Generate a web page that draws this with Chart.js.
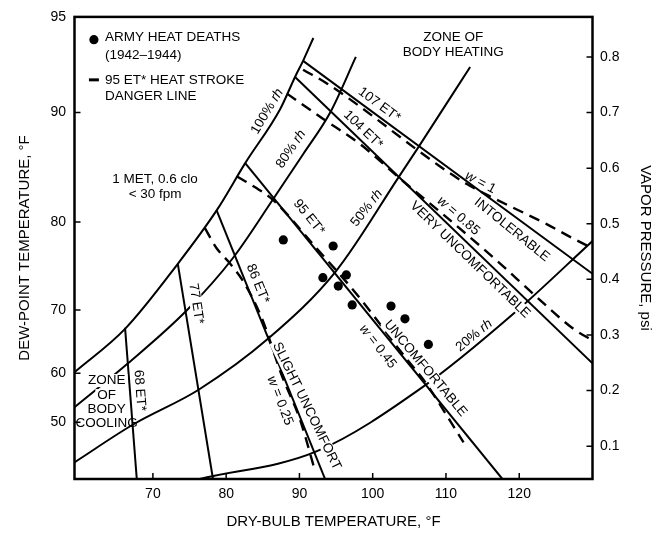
<!DOCTYPE html>
<html>
<head>
<meta charset="utf-8">
<script src="https://cdn.jsdelivr.net/npm/chart.js@4.4.1/dist/chart.umd.min.js"></script>
<style>
  html, body { margin: 0; padding: 0; background: #fff; }
  #wrap { width: 662px; height: 533px; }
</style>
</head>
<body>
<div id="wrap"><canvas id="c" width="662" height="533"></canvas></div>
<script>
const FONT = "'Liberation Sans', Arial, Helvetica, sans-serif";

// Axis ticks
const dryBulbTicks = [70, 80, 90, 100, 110, 120];
const vaporPressureTicks = [0.1, 0.2, 0.3, 0.4, 0.5, 0.6, 0.7, 0.8];
const dewPointLabels = [50, 60, 70, 80, 90, 95];
const dewPointPsi = [0.143, 0.231, 0.345, 0.503, 0.700, 0.872];

// Relative humidity curves (dry-bulb °F, vapor pressure psi)
const rh100T = [59.3, 66.2, 73.4, 78.7, 82.6, 87.4, 89.4, 90.5, 91.9];
const rh100P = [0.233, 0.311, 0.428, 0.524, 0.609, 0.707, 0.764, 0.793, 0.834];
const rh80T = [59.3, 66.6, 74.6, 80.9, 86.4, 90.5, 94.2, 97.7];
const rh80P = [0.170, 0.249, 0.344, 0.438, 0.544, 0.625, 0.700, 0.800];
const rh50T = [59.3, 67.3, 76.3, 85.7, 95.0, 103.5, 106.2, 113.3];
const rh50P = [0.071, 0.139, 0.202, 0.293, 0.415, 0.583, 0.637, 0.782];
const rh20T = [76.4, 92.4, 106.9, 119.2, 130];
const rh20P = [0.041, 0.091, 0.207, 0.338, 0.469];

// Effective temperature ET* lines, from the saturation curve downward
const et68T = [66.2, 67.8];   const et68P = [0.313, 0.041];
const et77T = [73.4, 78.2];   const et77P = [0.428, 0.041];
const et86T = [78.7, 93.5];   const et86P = [0.524, 0.041];
const et95T = [82.6, 117.7];  const et95P = [0.609, 0.041];
const et104T = [89.4, 130];   const et104P = [0.764, 0.249];
const et107T = [90.5, 130];   const et107P = [0.793, 0.410];

// Skin wettedness lines (dashed)
const w025T = [77.1, 78.7, 80.5, 82.3, 84.9, 87.6, 90.1, 92.1];
const w025P = [0.492, 0.456, 0.429, 0.397, 0.329, 0.227, 0.147, 0.057];
const w045T = [81.5, 83.9, 86.3, 92.4, 97.9, 104.8, 106.9, 112.4];
const w045P = [0.585, 0.566, 0.544, 0.455, 0.372, 0.254, 0.220, 0.107];
const w085T = [88.3, 93.2, 98.3, 104.2, 109.6, 117.0, 121.9, 127.4, 130];
const w085P = [0.734, 0.689, 0.643, 0.576, 0.517, 0.433, 0.374, 0.311, 0.290];
const w100T = [90.5, 93.8, 109.2, 112.9, 116.5, 120.1, 123.8, 127.0, 130];
const w100P = [0.777, 0.752, 0.603, 0.571, 0.546, 0.523, 0.499, 0.476, 0.456];

// Army heat deaths, 1942–1944
const deathT = [87.8, 94.6, 93.2, 96.4, 95.3, 97.2, 102.5, 104.4, 107.6];
const deathP = [0.471, 0.460, 0.403, 0.408, 0.388, 0.354, 0.352, 0.329, 0.283];

const pairs = (ts, ps) => ts.map((t, i) => ({ x: t, y: ps[i] }));

function curve(ts, ps, smooth) {
  return {
    data: pairs(ts, ps), showLine: true, pointRadius: 0,
    borderColor: '#000', borderWidth: 2,
    cubicInterpolationMode: smooth ? 'monotone' : 'default', tension: 0
  };
}
function dashed(ts, ps) {
  return Object.assign(curve(ts, ps, true), { borderDash: [11, 7], borderWidth: 2.4 });
}

// Chart annotations: text placed at (dry-bulb, vapor pressure)
const notes = [
  { parts: [['100% ', 0], ['rh', 1]], t: 85.6, p: 0.702, rot: -59 },
  { parts: [['80% ', 0], ['rh', 1]], t: 88.85, p: 0.634, rot: -56 },
  { parts: [['50% ', 0], ['rh', 1]], t: 99.2, p: 0.528, rot: -52 },
  { parts: [['20% ', 0], ['rh', 1]], t: 113.85, p: 0.299, rot: -39, bg: true },
  { parts: [['107 ET*', 0]], t: 100.9, p: 0.714, rot: 36.5 },
  { parts: [['104 ET*', 0]], t: 98.7, p: 0.669, rot: 44 },
  { parts: [['95 ET*', 0]], t: 91.3, p: 0.512, rot: 51 },
  { parts: [['86 ET*', 0]], t: 84.3, p: 0.392, rot: 68 },
  { parts: [['77 ET*', 0]], t: 75.9, p: 0.356, rot: 81, bg: true },
  { parts: [['68 ET*', 0]], t: 68.2, p: 0.200, rot: 85.5 },
  { parts: [['w', 1], [' = 1', 0]], t: 114.7, p: 0.574, rot: 28 },
  { parts: [['w', 1], [' = 0.85', 0]], t: 111.7, p: 0.514, rot: 41 },
  { parts: [['INTOLERABLE', 0]], t: 119.0, p: 0.489, rot: 39 },
  { parts: [['VERY UNCOMFORTABLE', 0]], t: 113.3, p: 0.435, rot: 44, bg: true },
  { parts: [['UNCOMFORTABLE', 0]], t: 107.2, p: 0.240, rot: 50, bg: true },
  { parts: [['w', 1], [' = 0.45', 0]], t: 100.7, p: 0.279, rot: 52 },
  { parts: [['SLIGHT UNCOMFORT', 0]], t: 91.0, p: 0.172, rot: 64, bg: true },
  { parts: [['w', 1], [' = 0.25', 0]], t: 87.35, p: 0.182, rot: 69 },
  { parts: [['1 MET, 0.6 clo', 0]], t: 70.3, p: 0.580 },
  { parts: [['< 30 fpm', 0]], t: 70.3, p: 0.553 },
  { parts: [['ZONE', 0]], t: 63.7, p: 0.218, bg: true },
  { parts: [['OF', 0]], t: 63.7, p: 0.191, bg: true },
  { parts: [['BODY', 0]], t: 63.7, p: 0.166 },
  { parts: [['COOLING', 0]], t: 63.7, p: 0.141 },
  { parts: [['ZONE OF', 0]], t: 111.0, p: 0.836 },
  { parts: [['BODY HEATING', 0]], t: 111.0, p: 0.809 }
];

// Key inside the plot
const key = {
  dot: { t: 61.95, p: 0.831 },
  dash: { t0: 61.27, t1: 62.63, p: 0.7588 },
  textT: 63.45,
  rows: [
    { text: 'ARMY HEAT DEATHS', p: 0.835 },
    { text: '(1942\u20131944)', p: 0.8036 },
    { text: '95 ET* HEAT STROKE', p: 0.7588 },
    { text: 'DANGER LINE', p: 0.7284 }
  ]
};

function drawParts(ctx, parts, size, align) {
  const fonts = parts.map(([, it]) => (it ? 'italic ' : '') + size + 'px ' + FONT);
  const widths = parts.map(([s], i) => { ctx.font = fonts[i]; return ctx.measureText(s).width; });
  const total = widths.reduce((a, b) => a + b, 0);
  let x = align === 'left' ? 0 : -total / 2;
  ctx.textAlign = 'left';
  ctx.textBaseline = 'middle';
  parts.forEach(([s], i) => { ctx.font = fonts[i]; ctx.fillText(s, x, 0); x += widths[i]; });
  return total;
}

const overlay = {
  id: 'overlay',
  afterDatasetsDraw(chart) {
    const { ctx, scales } = chart;
    const xs = scales.x, ys = scales.y;
    const size = 13.5;
    ctx.save();
    for (const n of notes) {
      ctx.save();
      ctx.translate(xs.getPixelForValue(n.t), ys.getPixelForValue(n.p));
      ctx.rotate((n.rot || 0) * Math.PI / 180);
      if (n.bg) {
        let w = 0;
        n.parts.forEach(([s, it]) => { ctx.font = (it ? 'italic ' : '') + size + 'px ' + FONT; w += ctx.measureText(s).width; });
        ctx.fillStyle = '#fff';
        ctx.fillRect(-w / 2 - 2, -6.5, w + 4, 13);
      }
      ctx.fillStyle = '#000';
      drawParts(ctx, n.parts, size, 'center');
      ctx.restore();
    }
    // key
    ctx.fillStyle = '#000';
    ctx.beginPath();
    ctx.arc(xs.getPixelForValue(key.dot.t), ys.getPixelForValue(key.dot.p), 4.6, 0, Math.PI * 2);
    ctx.fill();
    const dx0 = xs.getPixelForValue(key.dash.t0), dx1 = xs.getPixelForValue(key.dash.t1);
    const dy = ys.getPixelForValue(key.dash.p);
    ctx.fillRect(dx0, dy - 1.5, dx1 - dx0, 3);
    const tx = xs.getPixelForValue(key.textT);
    for (const r of key.rows) {
      ctx.save();
      ctx.translate(tx, ys.getPixelForValue(r.p));
      drawParts(ctx, [[r.text, 0]], size, 'left');
      ctx.restore();
    }
    ctx.restore();
  },
  afterDraw(chart) {
    const { ctx, chartArea: a, scales } = chart;
    ctx.save();
    ctx.strokeStyle = '#000';
    ctx.lineWidth = 1.5;
    ctx.beginPath();
    const len = 6;
    scales.x.ticks.forEach(tk => {
      const px = scales.x.getPixelForValue(tk.value);
      ctx.moveTo(px, a.bottom); ctx.lineTo(px, a.bottom - len);
    });
    scales.y.ticks.forEach(tk => {
      if (tk.value >= scales.y.max) return;
      const py = scales.y.getPixelForValue(tk.value);
      ctx.moveTo(a.left, py); ctx.lineTo(a.left + len, py);
    });
    scales.y2.ticks.forEach(tk => {
      const py = scales.y2.getPixelForValue(tk.value);
      ctx.moveTo(a.right, py); ctx.lineTo(a.right - len, py);
    });
    ctx.stroke();
    ctx.lineWidth = 2.5;
    ctx.strokeRect(a.left, a.top, a.right - a.left, a.bottom - a.top);
    ctx.restore();
  }
};

const tickFont = { family: FONT, size: 14 };
const titleFont = { family: FONT, size: 15 };

new Chart(document.getElementById('c'), {
  type: 'scatter',
  data: {
    datasets: [
      curve(rh100T, rh100P, true),
      curve(rh80T, rh80P, true),
      curve(rh50T, rh50P, true),
      curve(rh20T, rh20P, true),
      curve(et68T, et68P, false),
      curve(et77T, et77P, false),
      curve(et86T, et86P, false),
      curve(et95T, et95P, false),
      curve(et104T, et104P, false),
      curve(et107T, et107P, false),
      dashed(w025T, w025P),
      dashed(w045T, w045P),
      dashed(w085T, w085P),
      dashed(w100T, w100P),
      {
        data: pairs(deathT, deathP), showLine: false,
        pointRadius: 4.6, pointBackgroundColor: '#000', pointBorderWidth: 0
      }
    ]
  },
  options: {
    responsive: false,
    animation: false,
    devicePixelRatio: 1,
    layout: { padding: { top: 15, left: 0, right: 0, bottom: 0 } },
    plugins: { legend: { display: false }, tooltip: { enabled: false } },
    scales: {
      x: {
        type: 'linear', min: 59.3, max: 130,
        afterBuildTicks: s => { s.ticks = dryBulbTicks.map(v => ({ value: v })); },
        afterFit: s => { s.height = 54; },
        grid: { display: false, drawTicks: false },
        border: { display: false },
        ticks: { font: tickFont, color: '#000', padding: 6.5, maxRotation: 0, autoSkip: false },
        title: { display: true, text: 'DRY-BULB TEMPERATURE, \u00B0F', font: titleFont, color: '#000', padding: { top: 0, bottom: 2 } }
      },
      y: {
        type: 'linear', position: 'left', min: 0.041, max: 0.872,
        afterBuildTicks: s => { s.ticks = dewPointPsi.map(v => ({ value: v })); },
        afterFit: s => { s.width = 74.5; },
        grid: { display: false, drawTicks: false },
        border: { display: false },
        ticks: { font: tickFont, color: '#000', padding: 8.5, autoSkip: false,
                 callback: (v, i) => String(dewPointLabels[i]) },
        title: { display: true, text: 'DEW-POINT TEMPERATURE, \u00B0F', font: titleFont, color: '#000', padding: { top: 16, bottom: 0 } }
      },
      y2: {
        type: 'linear', position: 'right', min: 0.041, max: 0.872,
        afterBuildTicks: s => { s.ticks = vaporPressureTicks.map(v => ({ value: v })); },
        afterFit: s => { s.width = 69.5; },
        grid: { display: false, drawTicks: false },
        border: { display: false },
        ticks: { font: tickFont, color: '#000', padding: 7.5, autoSkip: false,
                 callback: v => v.toFixed(1) },
        title: { display: true, text: 'VAPOR PRESSURE, psi', font: titleFont, color: '#000', padding: { top: 8, bottom: 0 } }
      }
    }
  },
  plugins: [overlay]
});
</script>
</body>
</html>
